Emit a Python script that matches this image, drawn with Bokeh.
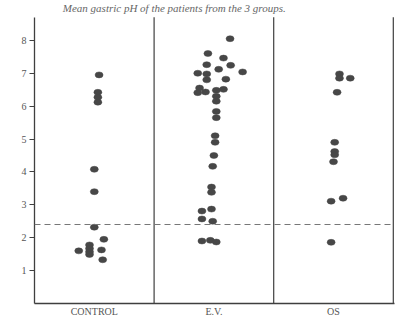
from bokeh.plotting import figure
from bokeh.models import Span, Label, FixedTicker, ColumnDataSource
from bokeh.embed import file_html
from bokeh.resources import INLINE

# ---- data ----
groups = ["CONTROL", "E.V.", "OS"]
group_centers = [0.5, 1.5, 2.5]
group_edges = [1, 2, 3]
threshold_ph = 2.4
y_ticks = [1, 2, 3, 4, 5, 6, 7, 8]
title_text = "Mean gastric pH of the patients from the 3 groups."

control_ph = [6.95, 6.42, 6.27, 6.12, 4.08, 3.40, 2.32, 1.95, 1.60, 1.78, 1.67, 1.57, 1.49, 1.63, 1.33]
control_x = [0.54, 0.53, 0.53, 0.53, 0.50, 0.50, 0.50, 0.58, 0.37, 0.46, 0.46, 0.46, 0.46, 0.56, 0.57]

ev_ph = [8.05, 7.60, 7.46, 7.26, 7.24, 7.12, 7.00, 6.98, 7.04, 6.80, 6.82, 6.55, 6.41, 6.43,
         6.48, 6.51, 6.30, 6.15, 5.84, 5.65, 5.10, 4.90, 4.50, 4.17, 3.54, 3.38, 2.87, 2.81,
         2.57, 2.50, 1.90, 1.92, 1.87]
ev_x = [1.635, 1.45, 1.58, 1.44, 1.64, 1.54, 1.365, 1.44, 1.74, 1.44, 1.60, 1.38, 1.365, 1.43,
        1.52, 1.58, 1.52, 1.52, 1.52, 1.52, 1.51, 1.51, 1.50, 1.49, 1.48, 1.48, 1.48, 1.40,
        1.40, 1.49, 1.40, 1.47, 1.52]

os_ph = [6.98, 6.85, 6.85, 6.42, 4.90, 4.62, 4.52, 4.31, 3.11, 3.20, 1.86]
os_x = [2.55, 2.55, 2.64, 2.53, 2.51, 2.51, 2.51, 2.50, 2.48, 2.58, 2.48]

serif = "Liberation Serif"
ink = "#3f3f3f"
label_col = "#555555"
top_ph = 8.7

p = figure(width=396, height=319, output_backend="svg", toolbar_location=None,
           x_range=(0, 3.01), y_range=(0, 9.09),
           min_border_left=34, min_border_right=2, min_border_top=4, min_border_bottom=0)
p.outline_line_color = None
p.xgrid.grid_line_color = None
p.ygrid.grid_line_color = None
p.background_fill_color = "white"
p.border_fill_color = "white"

# y axis
p.yaxis.ticker = FixedTicker(ticks=y_ticks)
p.yaxis.bounds = (0, top_ph)
p.yaxis.major_tick_in = 0
p.yaxis.major_tick_out = 5
p.yaxis.minor_tick_line_color = None
p.yaxis.axis_line_color = ink
p.yaxis.axis_line_width = 1.3
p.yaxis.major_tick_line_color = ink
p.yaxis.major_label_text_font = serif
p.yaxis.major_label_text_font_size = "10px"
p.yaxis.major_label_text_color = label_col
p.yaxis.major_label_standoff = 3

# x axis
p.xaxis.ticker = FixedTicker(ticks=group_centers)
p.xaxis.major_label_overrides = {c: g for c, g in zip(group_centers, groups)}
p.xaxis.major_tick_line_color = None
p.xaxis.major_tick_out = 0
p.xaxis.major_tick_in = 0
p.xaxis.minor_tick_line_color = None
p.xaxis.axis_line_color = ink
p.xaxis.axis_line_width = 1.3
p.xaxis.major_label_text_font = serif
p.xaxis.major_label_text_font_size = "10px"
p.xaxis.major_label_text_color = label_col
p.xaxis.major_label_standoff = 2

# group dividers and right border
p.segment(x0=group_edges, y0=[0] * 3, x1=group_edges, y1=[top_ph] * 3,
          line_color=ink, line_width=1.2)

# threshold line
p.add_layout(Span(location=threshold_ph, dimension="width", line_color="#777777",
                  line_width=1.1, line_dash="6 4"))

# pH label and title
p.add_layout(Label(x=0, y=8.76, x_offset=-26, text="pH", text_font=serif,
                   text_font_size="10px", text_color=label_col, text_baseline="middle"))
p.add_layout(Label(x=2.1, y=8.97, text=title_text, text_font=serif, text_font_style="italic",
                   text_font_size="11px", text_color="#666666", text_align="right",
                   text_baseline="middle"))

xs = control_x + ev_x + os_x
ys = control_ph + ev_ph + os_ph
src = ColumnDataSource(data=dict(x=xs, y=ys))
p.ellipse(x="x", y="y", width=8, height=6, width_units="screen", height_units="screen",
          source=src, fill_color="#474747", line_color="#474747", line_width=0.5)

open("out.html", "w").write(file_html(p, INLINE))
